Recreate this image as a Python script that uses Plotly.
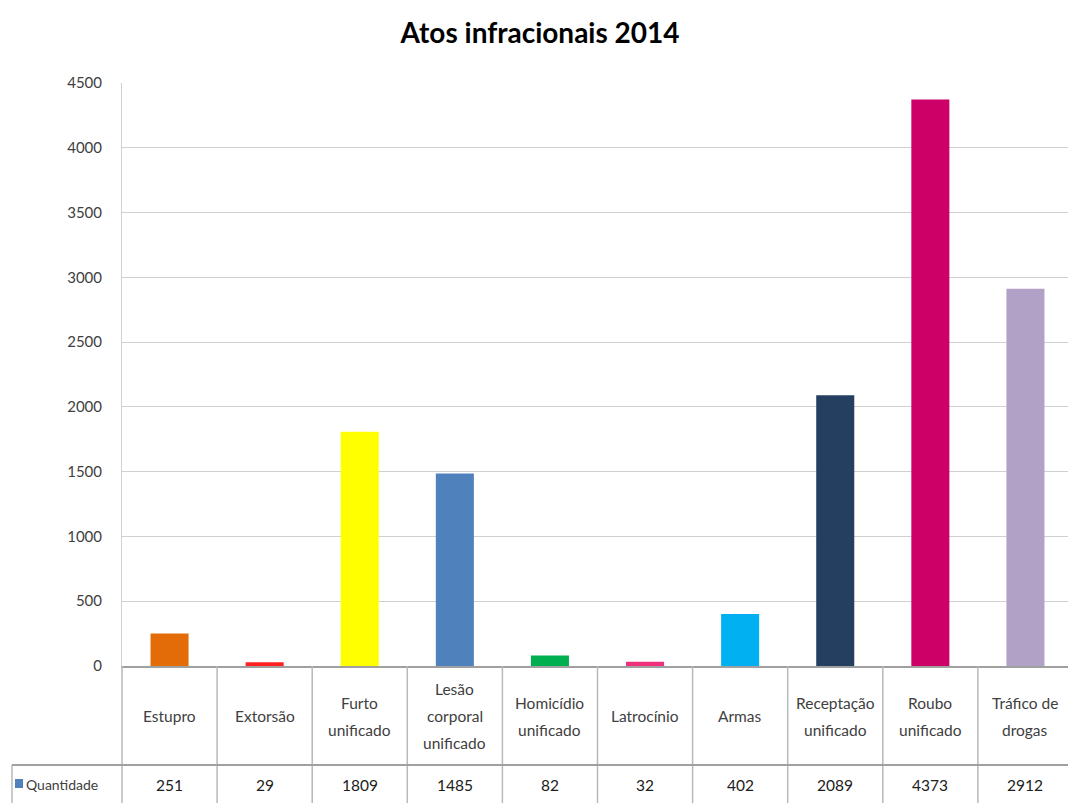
import plotly.graph_objects as go

categories = ["Estupro", "Extorsão", "Furto unificado", "Lesão corporal unificado",
              "Homicídio unificado", "Latrocínio", "Armas", "Receptação unificado",
              "Roubo unificado", "Tráfico de drogas"]
header_lines = [["Estupro"], ["Extorsão"], ["Furto", "unificado"], ["Lesão", "corporal", "unificado"],
                ["Homicídio", "unificado"], ["Latrocínio"], ["Armas"], ["Receptação", "unificado"],
                ["Roubo", "unificado"], ["Tráfico de", "drogas"]]
values = [251, 29, 1809, 1485, 82, 32, 402, 2089, 4373, 2912]
colors = ["#E36C09", "#FF2020", "#FFFF00", "#4F81BD", "#00B050", "#F0307A",
          "#00B0F0", "#243F60", "#CC0066", "#B2A1C7"]
series_name = "Quantidade"
title = "Atos infracionais 2014"
y_ticks = [0, 500, 1000, 1500, 2000, 2500, 3000, 3500, 4000, 4500]

OFF = 8  # page body margin
W, H = 1076 - OFF, 803 - OFF
# reference pixel geometry
REF_L, REF_R, REF_T, REF_B = 122, 1073, 83, 666
L, T = REF_L - OFF, REF_T - OFF
R = W - (REF_R - OFF)
B = H - (REF_B - OFF)
plot_h = REF_B - REF_T
plot_w = REF_R - REF_L
FONT = "Lato, Open Sans, sans-serif"

def py(pix):
    return (REF_B - pix) / plot_h

def px(pix):
    return (pix - REF_L) / plot_w

n = len(categories)
x_idx = list(range(n))

fig = go.Figure()
fig.add_trace(go.Bar(x=x_idx, y=values, marker=dict(color=colors, line=dict(width=0)),
                     width=0.4, name=series_name, showlegend=False))

shapes = []
line_col = "#b8b8b8"
for k in range(n + 1):
    xp = k / n
    shapes.append(dict(type="line", xref="paper", yref="paper", x0=xp, x1=xp,
                       y0=0, y1=py(810), line=dict(color=line_col, width=1.5)))
shapes.append(dict(type="line", xref="paper", yref="paper", x0=px(12), x1=px(12),
                   y0=py(765), y1=py(810), line=dict(color=line_col, width=1.5)))
shapes.append(dict(type="line", xref="paper", yref="paper", x0=px(12), x1=px(1080),
                   y0=py(765), y1=py(765), line=dict(color="#a0a0a0", width=2)))
shapes.append(dict(type="rect", xref="paper", yref="paper", x0=px(15), x1=px(23),
                   y0=py(788), y1=py(779), fillcolor="#4F81BD", line=dict(width=0)))

annotations = []
LINE_GAP = 27
for i in range(n):
    lines = header_lines[i]
    m = len(lines)
    for j, t in enumerate(lines):
        yc = 716 + (j - (m - 1) / 2) * LINE_GAP
        annotations.append(dict(x=i, y=py(yc), xref="x", yref="paper", text=t,
                                showarrow=False, font=dict(family=FONT, size=15.5, color="#404040"),
                                xanchor="center", yanchor="middle"))
    annotations.append(dict(x=i, y=py(785), xref="x", yref="paper", text=str(values[i]),
                            showarrow=False, font=dict(family=FONT, size=15.5, color="#202020"),
                            xanchor="center", yanchor="middle"))
annotations.append(dict(x=px(24), y=py(784), xref="paper", yref="paper", text=series_name,
                        showarrow=False, font=dict(family=FONT, size=14, color="#404040"),
                        xanchor="left", yanchor="middle"))

fig.update_layout(
    width=W, height=H,
    margin=dict(l=L, r=R, t=T, b=B),
    paper_bgcolor="white", plot_bgcolor="white",
    title=dict(text="<b>" + title + "</b>", x=(540 - OFF) / W, xref="container", xanchor="center",
               y=1 - (33 - OFF) / H, yref="container", yanchor="middle",
               font=dict(family=FONT, size=28, color="black")),
    xaxis=dict(range=[-0.5, n - 0.5], showticklabels=False, showgrid=False, zeroline=False,
               showline=True, linecolor="#a0a0a0", linewidth=1.5, ticks=""),
    yaxis=dict(range=[0, 4500], tickvals=y_ticks, showgrid=True, gridcolor="#d0d0d0",
               gridwidth=1, zeroline=False, showline=True, linecolor="#d0d0d0",
               tickfont=dict(family=FONT, size=15, color="#404040"), ticks="",
               ticklabelstandoff=16),
    shapes=shapes, annotations=annotations,
    bargap=0.6, showlegend=False,
)

fig.write_html("out.html")
